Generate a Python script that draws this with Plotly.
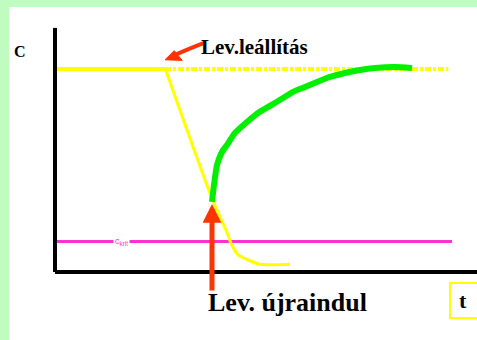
import plotly.graph_objects as go

# Concentration over time: process level, shutdown decay and restart recovery
C_LEVEL = 10.0          # steady concentration before shutdown
T_STOP = 2.75           # moment of shutdown
T_END = 9.83            # end of the reference (dashed) level
C_KRIT = 1.5            # critical concentration
T_KRIT_END = 9.925

# decay after shutdown
t_decay = [2.75, 3.92, 4.29, 4.42, 4.58, 4.83, 5.125, 5.875]
c_decay = [10.05, 3.65, 1.99, 1.33, 0.84, 0.59, 0.38, 0.38]

# recovery after restart
t_recover = [3.925, 3.975, 4.05, 4.175, 4.30, 4.50, 4.80, 5.075, 5.375, 5.70,
             5.95, 6.25, 6.55, 6.875, 7.25, 7.625, 8.0, 8.5, 8.925]
c_recover = [3.45, 4.29, 5.27, 5.91, 6.26, 6.85, 7.39, 7.83, 8.18, 8.57,
             8.87, 9.11, 9.36, 9.61, 9.80, 9.95, 10.05, 10.1, 10.05]

YELLOW = "#ffff00"
GREEN = "#00f000"
MAGENTA = "#ff33cc"
RED = "#ff3300"
SERIF = "Liberation Serif, Times New Roman, serif"

fig = go.Figure()

# level before shutdown
fig.add_trace(go.Scatter(x=[0, T_STOP], y=[C_LEVEL, C_LEVEL], mode="lines",
                         line=dict(color=YELLOW, width=4)))
# level continued (dashed)
fig.add_trace(go.Scatter(x=[T_STOP, T_END], y=[C_LEVEL, C_LEVEL], mode="lines",
                         line=dict(color=YELLOW, width=4, dash="6px,2px,3px,2px")))
# critical level
fig.add_trace(go.Scatter(x=[0, T_KRIT_END], y=[C_KRIT, C_KRIT], mode="lines",
                         line=dict(color=MAGENTA, width=3)))
# decay
fig.add_trace(go.Scatter(x=t_decay, y=c_decay, mode="lines",
                         line=dict(color=YELLOW, width=3, shape="spline", smoothing=0.6)))
# recovery
fig.add_trace(go.Scatter(x=t_recover, y=c_recover, mode="lines",
                         line=dict(color=GREEN, width=6, shape="spline", smoothing=0.5)))

# axes drawn as thick black lines
fig.add_shape(type="line", x0=0, x1=0, y0=0, y1=12.02, line=dict(color="black", width=4))
fig.add_shape(type="line", x0=0, x1=10.6, y0=0, y1=0, line=dict(color="black", width=4))

# box around the "t" label
fig.add_shape(type="rect", x0=9.875, x1=10.7, y0=-2.27, y1=-0.54,
              line=dict(color=YELLOW, width=2), fillcolor="white")

# curved arrow pointing to the shutdown moment
fig.add_shape(type="path", path="M 3.75,11.3 Q 3.4,11.05 2.95,10.65",
              line=dict(color=RED, width=4))
fig.add_shape(type="path", path="M 2.75,10.45 L 3.18,10.42 L 2.98,10.9 Z",
              line=dict(color=RED, width=1), fillcolor=RED)

annotations = [
    dict(x=-0.875, y=10.84, text="<b>C</b>", showarrow=False,
         font=dict(family=SERIF, size=16, color="black")),
    dict(x=4.975, y=11.1, text="<b>Lev.leállítás</b>",
         showarrow=False, font=dict(family=SERIF, size=21, color="black")),
    dict(x=5.8, y=-1.5, text="<b>Lev. újraindul</b>", showarrow=False,
         font=dict(family=SERIF, size=26, color="black")),
    dict(x=10.2, y=-1.38, text="<b>t</b>", showarrow=False,
         font=dict(family=SERIF, size=22, color="black")),
    dict(x=1.65, y=C_KRIT, text="c<sub>krit</sub>", showarrow=False,
         bgcolor="white", borderpad=1,
         font=dict(family="Arial, sans-serif", size=9, color=MAGENTA)),
    # restart arrow
    dict(x=3.925, y=3.35, ax=0, ay=88, text="", showarrow=True,
         arrowhead=2, arrowsize=0.75, arrowwidth=5, arrowcolor=RED),
]

fig.update_layout(
    width=477, height=340, autosize=False,
    margin=dict(l=9, t=7, r=0, b=0),
    paper_bgcolor="#c0fcc0", plot_bgcolor="white",
    showlegend=False,
    xaxis=dict(range=[-1.15, 10.55], visible=False, fixedrange=True),
    yaxis=dict(range=[-3.35, 13.05], visible=False, fixedrange=True),
    annotations=annotations,
)

fig.write_html("out.html", config={"displayModeBar": False})
